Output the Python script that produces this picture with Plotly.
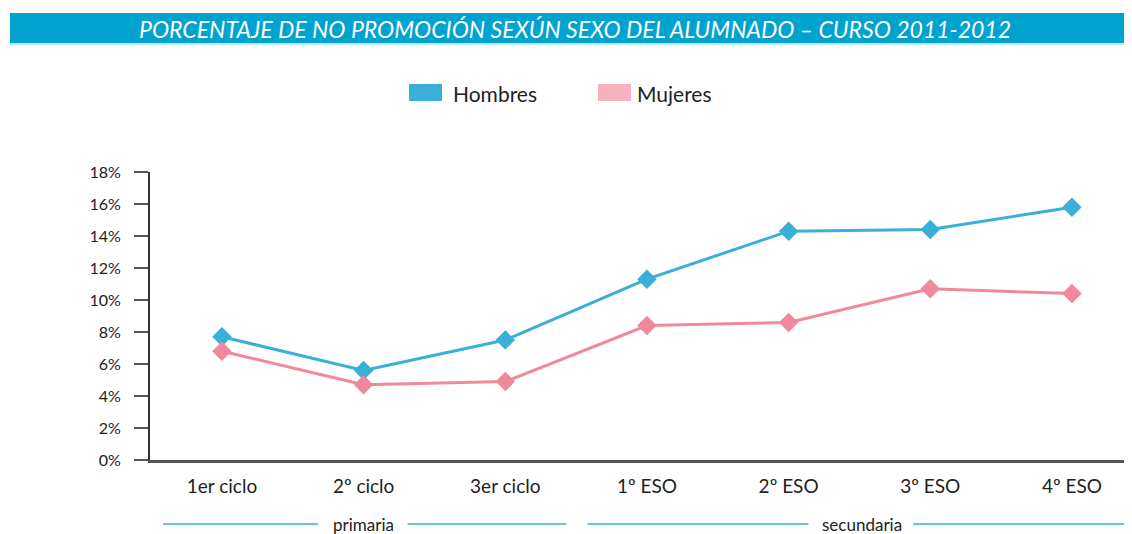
import plotly.graph_objects as go

categories = ["1er ciclo", "2º ciclo", "3er ciclo", "1º ESO", "2º ESO", "3º ESO", "4º ESO"]
hombres = [7.7, 5.6, 7.5, 11.3, 14.3, 14.4, 15.8]
mujeres = [6.8, 4.7, 4.9, 8.4, 8.6, 10.7, 10.4]
y_ticks = [0, 2, 4, 6, 8, 10, 12, 14, 16, 18]
y_tick_labels = [f"{v}%" for v in y_ticks]

title_text = "PORCENTAJE DE NO PROMOCIÓN SEXÚN SEXO DEL ALUMNADO – CURSO 2011-2012"
groups = ["primaria", "secundaria"]

C_H = "#3AAFD7"
C_M = "#F0899B"
C_M_LEG = "#F7B3BD"
C_BAND = "#00A3CF"
FONT = "Lato"

fig = go.Figure()
fig.add_trace(go.Scatter(x=list(range(len(categories))), y=hombres, mode="lines+markers",
                         name="Hombres", line=dict(color=C_H, width=3),
                         marker=dict(symbol="diamond", size=15, color=C_H),
                         cliponaxis=False, showlegend=False))
fig.add_trace(go.Scatter(x=list(range(len(categories))), y=mujeres, mode="lines+markers",
                         name="Mujeres", line=dict(color=C_M, width=3),
                         marker=dict(symbol="diamond", size=15, color=C_M),
                         cliponaxis=False, showlegend=False))

OFF = 8  # page body margin
W, H = 1132 - OFF, 534 - OFF
L, R, T, B = 150 - OFF, 0, 172 - OFF, 74
pw = W - L - R
ph = H - T - B
XR = [-0.508, 6.424]


def px(xp):
    return (xp - OFF - L) / pw


def py(yp):
    return (H - B - (yp - OFF)) / ph


def cx(v):
    # category-axis value -> paper x
    return (v - XR[0]) / (XR[1] - XR[0])


shapes = []
annotations = []

# title band
shapes.append(dict(type="rect", xref="paper", yref="paper", x0=px(10), x1=px(1132),
                   y0=py(43), y1=py(13), fillcolor=C_BAND, line=dict(width=0), layer="below"))
shapes.append(dict(type="line", xref="paper", yref="paper", x0=px(10), x1=px(1132),
                   y0=py(44), y1=py(44), line=dict(color="#7FD0E8", width=1)))
annotations.append(dict(text="<i>" + title_text + "</i>", xref="paper", yref="paper",
                        x=px(575), y=py(29), showarrow=False, xanchor="center", yanchor="middle",
                        font=dict(family=FONT, size=23, color="white")))

# manual legend
for name, color, x0, x1, tx in [("Hombres", C_H, 409, 442, 451), ("Mujeres", C_M_LEG, 598, 631, 635)]:
    shapes.append(dict(type="rect", xref="paper", yref="paper", x0=px(x0), x1=px(x1),
                       y0=py(101), y1=py(84), fillcolor=color, line=dict(width=0)))
    annotations.append(dict(text=name, xref="paper", yref="paper", x=px(tx), y=py(93),
                            showarrow=False, xanchor="left", yanchor="middle",
                            font=dict(family=FONT, size=21, color="#222")))

# group brackets under the axis
yb = py(524)
for (a, b) in [(-0.416, 0.678), (1.31, 2.43), (2.58, 4.14), (4.88, 6.39)]:
    shapes.append(dict(type="line", xref="paper", yref="paper", x0=cx(a), x1=cx(b), y0=yb, y1=yb,
                       line=dict(color=C_H, width=1.5)))
for name, xc in zip(groups, [1.0, 4.52]):
    annotations.append(dict(text=name, xref="paper", yref="paper", x=cx(xc), y=yb, showarrow=False,
                            xanchor="center", yanchor="middle",
                            font=dict(family=FONT, size=17, color="#222")))

fig.update_layout(
    width=W, height=H,
    margin=dict(l=L, r=R, t=T, b=B),
    paper_bgcolor="white", plot_bgcolor="white",
    shapes=shapes, annotations=annotations,
    font=dict(family=FONT, color="#222"),
    xaxis=dict(range=XR, tickmode="array",
               tickvals=list(range(len(categories))), ticktext=categories,
               showgrid=False, zeroline=False, showline=True, linecolor="#555", linewidth=3,
               ticks="", ticklabelstandoff=7, tickfont=dict(size=19, color="#222"), fixedrange=True),
    yaxis=dict(range=[0, 18], tickmode="array", tickvals=y_ticks, ticktext=y_tick_labels,
               showgrid=False, zeroline=False, showline=True, linecolor="#333", linewidth=2,
               ticks="outside", ticklen=14, tickwidth=2, tickcolor="#555",
               ticklabelstandoff=10, tickfont=dict(size=16, color="#222"), fixedrange=True),
    showlegend=False,
)

fig.write_html("out.html")
